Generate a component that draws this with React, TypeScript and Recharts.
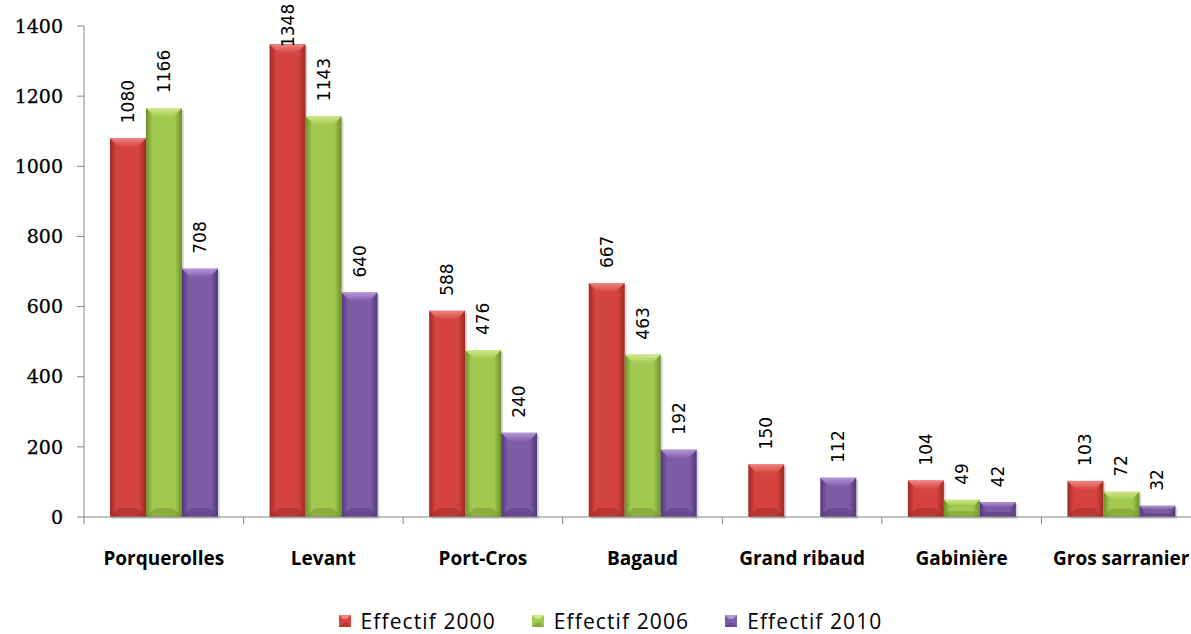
import { BarChart, Bar, XAxis, YAxis, Legend, LabelList } from 'recharts';

const categories = ['Porquerolles', 'Levant', 'Port-Cros', 'Bagaud', 'Grand ribaud', 'Gabinière', 'Gros sarranier'];
const effectif2000 = [1080, 1348, 588, 667, 150, 104, 103];
const effectif2006 = [1166, 1143, 476, 463, null, 49, 72];
const effectif2010 = [708, 640, 240, 192, 112, 42, 32];
const yTicks = [0, 200, 400, 600, 800, 1000, 1200, 1400];

const data = categories.map((name, i) => ({
  name,
  e2000: effectif2000[i],
  e2006: effectif2006[i],
  e2010: effectif2010[i],
}));

const CHART_W = 1201;
const CHART_H = 634;
const Y_AXIS_W = 84;
const BAND = (CHART_W - Y_AXIS_W) / categories.length;

type Palette = { id: string; base: string; light: string; dark: string; label: string };

const series: (Palette & { key: string })[] = [
  { key: 'e2000', id: 'red', base: '#d4433f', light: '#ef8580', dark: '#9e2926', label: 'Effectif 2000' },
  { key: 'e2006', id: 'green', base: '#a2c94f', light: '#cfe88c', dark: '#6e8f2a', label: 'Effectif 2006' },
  { key: 'e2010', id: 'purple', base: '#7d5ca6', light: '#b396d8', dark: '#523877', label: 'Effectif 2010' },
];

// bevelled bar: gradient body, light top face, darker bottom edge, soft shadow
const makeShape = (p: Palette) => (props: any) => {
  const { x, y, width: w, height: h } = props;
  if (h == null || h <= 0) return null;
  const b = Math.min(9, h / 3);
  return (
    <g>
      <rect x={x + 2} y={y + 2} width={w} height={h} fill="#000" opacity={0.15} />
      <rect x={x} y={y} width={w} height={h} fill={`url(#body-${p.id})`} />
      <polygon
        points={`${x},${y} ${x + w},${y} ${x + w - b},${y + b} ${x + b},${y + b}`}
        fill={`url(#top-${p.id})`}
      />
      <polygon
        points={`${x},${y + h} ${x + b},${y + h - b} ${x + w - b},${y + h - b} ${x + w},${y + h}`}
        fill={p.dark}
        opacity={0.45}
      />
    </g>
  );
};

// vertical value label above the bar, kept inside the top edge
const renderValue = (props: any) => {
  const { x, y, width, value } = props;
  if (value == null) return null;
  const cx = x + width / 2;
  const ty = Math.max(y - 15, 47);
  return (
    <text
      x={cx}
      y={ty}
      transform={`rotate(-90, ${cx}, ${ty})`}
      textAnchor="start"
      dominantBaseline="central"
      fontFamily="'DejaVu Sans', sans-serif"
      fontSize={17}
      fill="#000"
    >
      {value}
    </text>
  );
};

const CategoryTick = (props: any) => {
  const { x, y, payload } = props;
  return (
    <g>
      <line x1={x - BAND / 2} y1={y - 8} x2={x - BAND / 2} y2={y - 1} stroke="#868686" />
      <text
        x={x}
        y={y + 40}
        textAnchor="middle"
        fontFamily="'Open Sans', sans-serif"
        fontWeight={700}
        fontSize={19}
        fill="#000"
      >
        {payload.value}
      </text>
    </g>
  );
};

const LegendContent = () => (
  <div
    style={{
      display: 'flex',
      justifyContent: 'center',
      gap: 36,
      paddingLeft: 20,
      paddingTop: 13,
      fontFamily: "'Open Sans', sans-serif",
      fontSize: 21,
      letterSpacing: 1.1,
      color: '#000',
    }}
  >
    {series.map((s) => (
      <div key={s.key} style={{ display: 'flex', alignItems: 'center' }}>
        <svg width={12} height={12} style={{ marginRight: 10 }}>
          <rect x={0} y={0} width={12} height={12} fill={s.base} />
          <polygon points="0,0 12,0 8,4 4,4" fill={s.light} />
          <polygon points="0,12 4,8 8,8 12,12" fill={s.dark} opacity={0.5} />
        </svg>
        <span>{s.label}</span>
      </div>
    ))}
  </div>
);

export default function App() {
  return (
    <div style={{ position: 'absolute', left: 0, top: 0, width: 1191, height: CHART_H, overflow: 'hidden', background: '#fff' }}>
      <BarChart
        width={CHART_W}
        height={CHART_H}
        data={data}
        margin={{ top: 26, right: 0, bottom: 0, left: 0 }}
        barGap={0}
        barSize={36}
      >
        <defs>
          {series.map((s) => (
            <linearGradient key={s.id} id={`body-${s.id}`} x1="0" y1="0" x2="1" y2="0">
              <stop offset="0%" stopColor={s.dark} />
              <stop offset="18%" stopColor={s.base} />
              <stop offset="80%" stopColor={s.base} />
              <stop offset="100%" stopColor={s.dark} />
            </linearGradient>
          ))}
          {series.map((s) => (
            <linearGradient key={`t-${s.id}`} id={`top-${s.id}`} x1="0" y1="0" x2="0" y2="1">
              <stop offset="0%" stopColor={s.light} />
              <stop offset="100%" stopColor={s.base} />
            </linearGradient>
          ))}
        </defs>
        <XAxis
          dataKey="name"
          height={77}
          stroke="#868686"
          tickLine={false}
          tick={<CategoryTick />}
          interval={0}
        />
        <YAxis
          width={Y_AXIS_W}
          domain={[0, 1400]}
          ticks={yTicks}
          stroke="#868686"
          tickSize={7}
          tickMargin={14}
          tick={{ fill: '#000', fontFamily: "'DejaVu Serif', serif", fontSize: 19, stroke: '#000', strokeWidth: 0.3 }}
        />
        <Legend verticalAlign="bottom" height={40} content={<LegendContent />} />
        {series.map((s) => (
          <Bar key={s.key} dataKey={s.key} name={s.label} shape={makeShape(s)} isAnimationActive={false}>
            <LabelList dataKey={s.key} content={renderValue} />
          </Bar>
        ))}
      </BarChart>
    </div>
  );
}
